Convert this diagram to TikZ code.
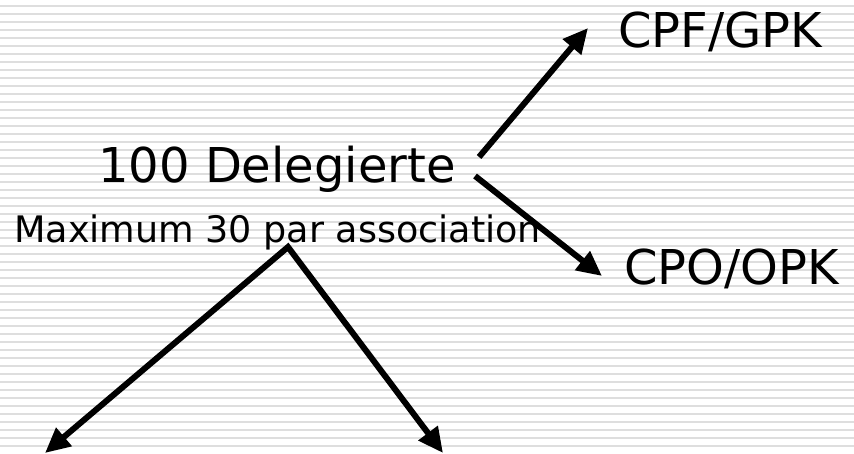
\documentclass[tikz,border=0pt]{standalone}
\usepackage{fontspec}
\setmainfont{DejaVu Sans}
\usepackage{tikz}
\usetikzlibrary{arrows.meta}
\usetikzlibrary{positioning}
\definecolor{stripegray}{RGB}{222,222,222}
\tikzset{
    stripe/.style = {stripegray,line width=1.6pt},
    bigarrow/.style = {line width=6pt,-{Triangle[length=25pt,width=23pt]}},
    twoarrow/.style = {line width=6pt,miter limit=20,{Triangle[length=25pt,width=23pt]}-{Triangle[length=25pt,width=23pt]}},
    biglabel/.style = {inner sep=0,anchor=base west,font=\fontsize{48}{58}\selectfont},
    smalllabel/.style = {inner sep=0,anchor=base west,font=\fontsize{36.5}{44}\selectfont}
}

\begin{document}
\begin{tikzpicture}[x=1pt,y=-1pt]
        \useasboundingbox (0,0) rectangle (854,453);
        % Background
        \fill[white] (0,0) rectangle (854,453);
        \foreach \y in {6,14,...,446}
            \draw[stripe] (0,\y) -- (854,\y);
        % Labels
        \node[biglabel] (del) at (98,182) {100 Delegierte};
        \node[smalllabel] (max) at (14,242) {Maximum 30 par association};
        \node[biglabel] (gpk) at (618,47) {CPF/GPK};
        \node[biglabel] (opk) at (624,284) {CPO/OPK};
        % Arrow ends
        \path (del.base east)
            to +(23,-25) coordinate (delup)
            to +(19,-6) coordinate (deldown)
        ;
        \path (gpk.base west)
            to +(-30,-19) coordinate (gpkin)
        ;
        \path (opk.base west)
            to +(-22,-8) coordinate (opkin)
        ;
        \path (max.base west)
            to +(274,5) coordinate (fork)
            to +(31,211) coordinate (leftend)
            to +(429,211) coordinate (rightend)
        ;
        % Arrows
        \draw[bigarrow] (delup) -- (gpkin);
        \draw[bigarrow] (deldown) -- (opkin);
        \draw[twoarrow] (leftend) -- (fork) -- (rightend);
    \end{tikzpicture}
\end{document}
